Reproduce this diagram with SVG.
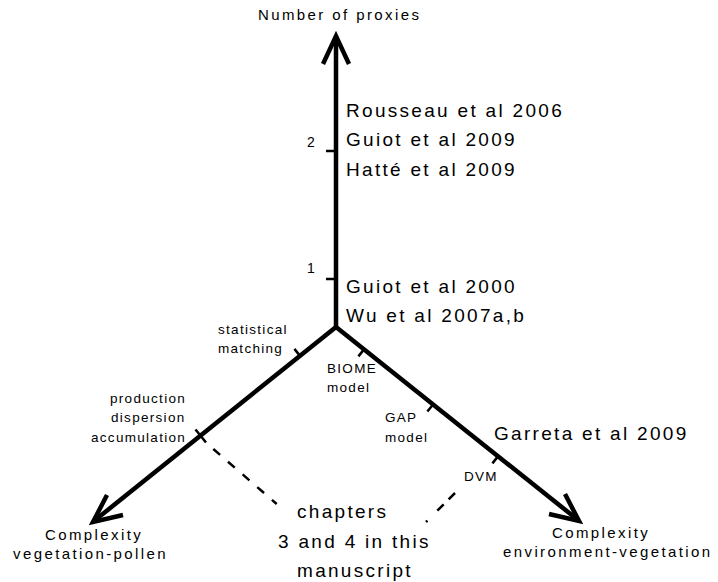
<svg xmlns="http://www.w3.org/2000/svg" width="718" height="582" viewBox="0 0 718 582">
  <style>
    text { font-family: "Liberation Sans", Arial, Helvetica, sans-serif; fill: #000; }
    .big { font-size: 19px; letter-spacing: 2.3px; }
    .axl { font-size: 15px; letter-spacing: 2.4px; }
    .sm { font-size: 13.5px; letter-spacing: 1.3px; }
    .num { font-size: 14px; }
    .axis { fill: none; stroke: #000; stroke-width: 4.5; stroke-linejoin: miter; }
    .tick { fill: none; stroke: #000; stroke-width: 2.5; }
    .dash { fill: none; stroke: #000; stroke-width: 2.5; }
  </style>
  <rect width="718" height="582" fill="#fff"/>

  <g id="connectors">
    <!-- axes -->
    <line class="axis" x1="336" y1="327" x2="336" y2="38"/>
    <polyline class="axis" points="323,64 336,36 349,64"/>
    <line class="axis" x1="336" y1="327" x2="578" y2="520"/>
    <polyline class="axis" points="565,494 579,521 549,514"/>
    <line class="axis" x1="336" y1="327" x2="94" y2="521"/>
    <polyline class="axis" points="107,495 93,522 123,515"/>
    <!-- ticks -->
    <line class="tick" x1="326" y1="151" x2="336" y2="151"/>
    <line class="tick" x1="326" y1="279" x2="336" y2="279"/>
    <line class="tick" x1="364" y1="349.4" x2="358.4" y2="356.4"/>
    <line class="tick" x1="433" y1="404.5" x2="427.4" y2="411.5"/>
    <line class="tick" x1="498" y1="456.4" x2="492.4" y2="463.4"/>
    <line class="tick" x1="300" y1="355.9" x2="294.4" y2="348.9"/>
    <line class="tick" x1="195.5" y1="429.5" x2="206" y2="442.5"/>
    <!-- dashed links -->
    <line class="dash" x1="213.3" y1="449" x2="276.7" y2="504" stroke-dasharray="9 10.4"/>
    <line class="dash" x1="455" y1="493" x2="425" y2="523" stroke-dasharray="9 7 9 14 2"/>
  </g>

  <g id="axis-proxies">
    <text class="axl" x="258" y="20">Number of proxies</text>
  </g>
  <g id="tick-2"><text class="num" x="307" y="147">2</text></g>
  <g id="tick-1"><text class="num" x="307" y="273">1</text></g>

  <g id="refs-2">
    <text class="big" x="346" y="117">Rousseau et al 2006</text>
    <text class="big" x="346" y="146">Guiot et al 2009</text>
    <text class="big" x="346" y="176">Hatté et al 2009</text>
  </g>
  <g id="refs-1">
    <text class="big" x="346" y="293">Guiot et al 2000</text>
    <text class="big" x="346" y="322">Wu et al 2007a,b</text>
  </g>
  <g id="ref-garreta">
    <text class="big" x="494" y="440">Garreta et al 2009</text>
  </g>

  <g id="statistical-matching">
    <text class="sm" x="218" y="334">statistical</text>
    <text class="sm" x="218" y="353">matching</text>
  </g>
  <g id="production">
    <text class="sm" x="110" y="403">production</text>
    <text class="sm" x="111" y="422">dispersion</text>
    <text class="sm" x="91" y="442">accumulation</text>
  </g>
  <g id="biome">
    <text class="sm" x="327" y="373">BIOME</text>
    <text class="sm" x="327" y="392">model</text>
  </g>
  <g id="gap">
    <text class="sm" x="385" y="422">GAP</text>
    <text class="sm" x="385" y="442">model</text>
  </g>
  <g id="dvm">
    <text class="sm" x="464" y="481">DVM</text>
  </g>

  <g id="chapters">
    <text class="big" x="297" y="518">chapters</text>
    <text class="big" x="278" y="548">3 and 4 in this</text>
    <text class="big" x="297" y="577">manuscript</text>
  </g>

  <g id="axis-veg-pollen">
    <text class="axl" x="45" y="540">Complexity</text>
    <text class="axl" x="13" y="559">vegetation-pollen</text>
  </g>
  <g id="axis-env-veg">
    <text class="axl" x="552" y="538">Complexity</text>
    <text class="axl" x="503" y="557">environment-vegetation</text>
  </g>
</svg>
